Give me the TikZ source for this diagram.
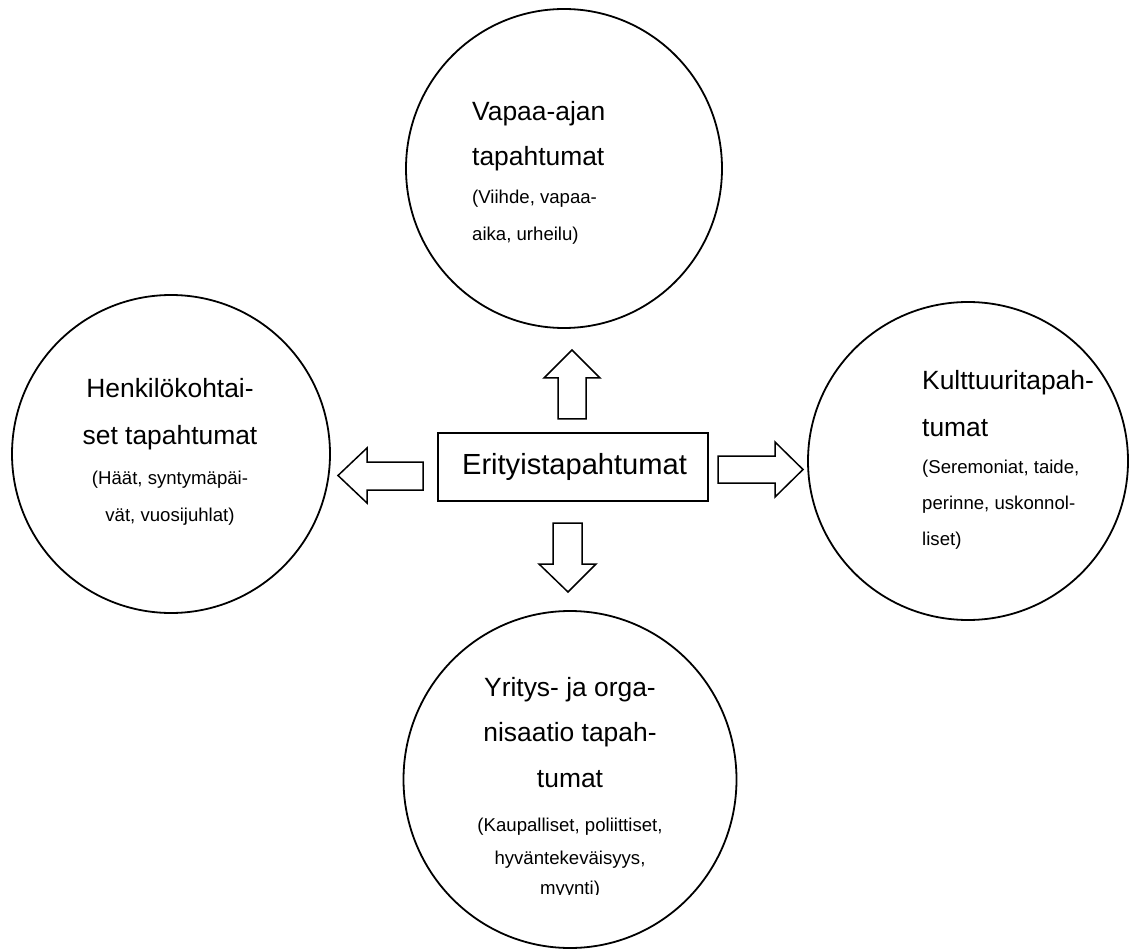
\documentclass[tikz,border=0pt]{standalone}
\usepackage{fontspec}
\setmainfont{Liberation Sans}
\usetikzlibrary{shapes.geometric}
\begin{document}
\begin{tikzpicture}[x=1pt,y=-1pt,
  ring/.style={draw=black, line width=1.8pt, ellipse, inner sep=0pt},
  big/.style={font=\fontsize{26.4}{30}\selectfont, inner sep=0pt},
  small/.style={font=\fontsize{18.6}{22}\selectfont, inner sep=0pt},
  blockarrow/.style={draw=black, line width=1.5pt, fill=white, line join=miter}]
\useasboundingbox (0,0) rectangle (1130,949);

% circles
\node[ring, minimum width=316pt, minimum height=319pt] (top) at (564,168.5) {};
\node[ring, minimum width=318pt, minimum height=318pt] (left) at (171,454) {};
\node[ring, minimum width=320pt, minimum height=318pt] (right) at (968,461) {};
\node[ring, minimum width=333pt, minimum height=337pt] (bottom) at (570,779.5) {};

% centre box
\node[draw=black, line width=1.5pt, minimum width=270pt, minimum height=68pt, inner sep=0pt] (box) at (573,467) {};
\node[anchor=base, inner sep=0pt, font=\fontsize{29.1}{34}\selectfont] (boxtext) at (574.5,474) {Erityistapahtumat};

% block arrows
\draw[blockarrow] (558,419) -- (558,378) -- (544,378) -- (572,350) -- (600,378) -- (586,378) -- (586,419) -- cycle;
\draw[blockarrow] (553,523) -- (553,564) -- (539,564) -- (568,592) -- (596,564) -- (582,564) -- (582,523) -- cycle;
\draw[blockarrow] (423,462) -- (367,462) -- (367,448) -- (338,475.5) -- (367,503) -- (367,490) -- (423,490) -- cycle;
\draw[blockarrow] (718,456) -- (775,456) -- (775,442) -- (803,469.5) -- (775,497) -- (775,483) -- (718,483) -- cycle;

% top circle text
\node[big, anchor=base west] (t1) at (472,121) {Vapaa-ajan};
\node[big, anchor=base west] (t2) at (472,166) {tapahtumat};
\node[small, anchor=base west] (t3) at (472,204) {(Viihde, vapaa-};
\node[small, anchor=base west] (t4) at (472,241) {aika, urheilu)};

% left circle text
\node[big, anchor=base] (l1) at (170,398) {Henkilökohtai-};
\node[big, anchor=base] (l2) at (170,444) {set tapahtumat};
\node[small, anchor=base] (l3) at (170,484) {(Häät, syntymäpäi-};
\node[small, anchor=base] (l4) at (170,521) {vät, vuosijuhlat)};

% right circle text
\node[big, anchor=base west] (r1) at (922,390) {Kulttuuritapah-};
\node[big, anchor=base west] (r2) at (922,436) {tumat};
\node[small, anchor=base west] (r3) at (922,473) {(Seremoniat, taide,};
\node[small, anchor=base west] (r4) at (922,509) {perinne, uskonnol-};
\node[small, anchor=base west] (r5) at (922,545) {liset)};

% bottom circle text
\node[big, anchor=base] (b1) at (570,696) {Yritys- ja orga-};
\node[big, anchor=base] (b2) at (570,741) {nisaatio tapah-};
\node[big, anchor=base] (b3) at (570,787) {tumat};
\node[small, anchor=base] (b4) at (570,831) {(Kaupalliset, poliittiset,};
\node[small, anchor=base] (b5) at (570,864) {hyväntekeväisyys,};
\begin{scope}
  \clip (500,870) rectangle (640,894);
  \node[small, anchor=base] (b6) at (570,894) {myynti)};
\end{scope}
\end{tikzpicture}
\end{document}
